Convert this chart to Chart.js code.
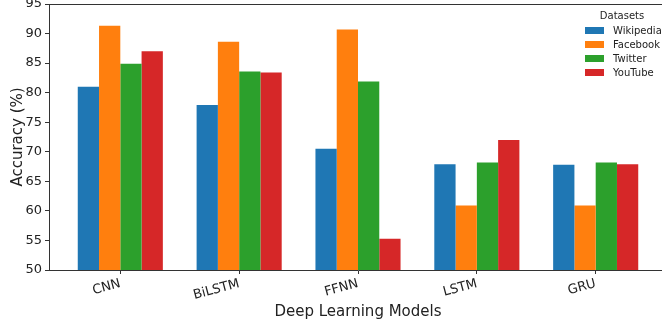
<!DOCTYPE html>
<html>
<head>
<meta charset="utf-8">
<script src="https://cdn.jsdelivr.net/npm/chart.js@4.4.1/dist/chart.umd.min.js"></script>
<style>
  html, body { margin: 0; padding: 0; background: #fff; }
  #wrap { position: relative; width: 662px; height: 322px; overflow: hidden; }
  #legend { position: absolute; left: 582px; top: 9px; font-family: "DejaVu Sans", sans-serif; font-size: 10px; color: #222; }
  #legend .title { text-align: center; width: 80px; margin-left: 0px; line-height: 14px; }
  #legend .row { display: flex; align-items: center; height: 14.2px; }
  #legend .sw { width: 19px; height: 7px; margin-left: 3px; margin-right: 9px; }
</style>
</head>
<body>
<div id="wrap">
  <canvas id="chart" width="668" height="322"></canvas>
  <div id="legend"></div>
</div>
<script>
// data
const models = ["CNN", "BiLSTM", "FFNN", "LSTM", "GRU"];
const wikipedia = [81.0, 77.9, 70.5, 67.9, 67.8];
const facebook = [91.3, 88.6, 90.7, 60.9, 60.9];
const twitter = [84.9, 83.6, 81.9, 68.2, 68.2];
const youtube = [87.0, 83.4, 55.3, 72.0, 67.9];
const yTicks = [50, 55, 60, 65, 70, 75, 80, 85, 90, 95];

const series = [
    { label: "Wikipedia", values: wikipedia, color: "#1f77b4" },
    { label: "Facebook", values: facebook, color: "#ff7f0e" },
    { label: "Twitter", values: twitter, color: "#2ca02c" },
    { label: "YouTube", values: youtube, color: "#d62728" }
];

const font = "'DejaVu Sans', sans-serif";
const axisColor = "#333";

// top / right spines like matplotlib
const framePlugin = {
    id: 'frame',
    afterDraw(chart) {
        const a = chart.chartArea, c = chart.ctx;
        c.save();
        c.strokeStyle = axisColor;
        c.lineWidth = 1;
        c.beginPath();
        c.moveTo(a.left, a.top + 0.5);
        c.lineTo(a.right, a.top + 0.5);
        c.lineTo(a.right - 0.5, a.bottom);
        c.stroke();
        c.restore();
    }
};

new Chart(document.getElementById('chart'), {
    type: 'bar',
    data: {
        datasets: series.map(s => ({
            label: s.label,
            data: s.values.map((v, i) => ({ x: i, y: v })),
            backgroundColor: s.color,
            borderWidth: 0,
            categoryPercentage: 0.716,
            barPercentage: 1.0
        }))
    },
    options: {
        responsive: false,
        animation: false,
        layout: { padding: { top: 4, right: 1, left: 0, bottom: 0 } },
        plugins: { legend: { display: false }, tooltip: { enabled: false } },
        scales: {
            x: {
                type: 'linear',
                min: -0.6, max: 4.6,
                offset: false,
                afterBuildTicks: s => { s.ticks = models.map((m, i) => ({ value: i })); },
                afterFit: s => { s.height = 52; s.paddingLeft = 0; s.paddingRight = 0; },
                ticks: {
                    callback: v => models[v],
                    minRotation: 15, maxRotation: 15,
                    autoSkip: false,
                    font: { family: font, size: 13 },
                    color: '#222',
                    padding: 2
                },
                grid: { drawOnChartArea: false, offset: false, tickLength: 4, color: axisColor },
                border: { color: axisColor, width: 1 },
                title: { display: true, text: 'Deep Learning Models', font: { family: font, size: 15 }, color: '#222', padding: { top: 0, bottom: 1 } }
            },
            y: {
                min: 50, max: 95,
                afterBuildTicks: s => { s.ticks = yTicks.map(v => ({ value: v })); },
                afterFit: s => { s.width = 49; s.paddingTop = 0; s.paddingBottom = 0; },
                ticks: { font: { family: font, size: 13 }, color: '#222', padding: 3 },
                grid: { drawOnChartArea: false, tickLength: 4, color: axisColor },
                border: { color: axisColor, width: 1 },
                title: { display: true, text: 'Accuracy (%)', font: { family: font, size: 15 }, color: '#222', padding: { top: 9, bottom: 0 } }
            }
        }
    },
    plugins: [framePlugin]
});

// legend inside the plot, top right
const legend = document.getElementById('legend');
legend.innerHTML = '<div class="title">Datasets</div>' + series.map(s =>
    '<div class="row"><span class="sw" style="background:' + s.color + '"></span>' + s.label + '</div>'
).join('');
</script>
</body>
</html>
